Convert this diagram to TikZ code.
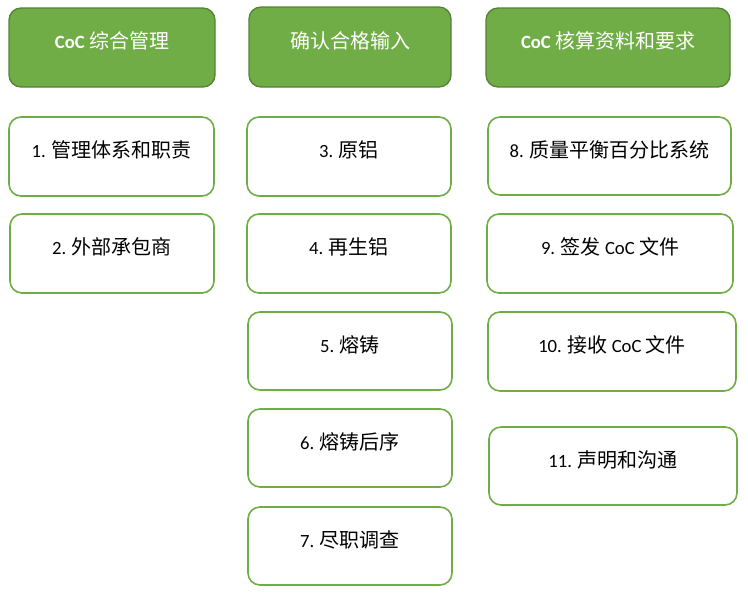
\documentclass[tikz,border=0pt]{standalone}
\usepackage{fontspec}
\setmainfont{Carlito}
\newfontfamily\cjk{Noto Sans CJK SC}
\newcommand\zh[1]{{\cjk\fontsize{15pt}{18pt}\selectfont #1}}
\definecolor{hdrfill}{HTML}{70AD47}
\definecolor{hdrline}{HTML}{548235}
\definecolor{boxline}{HTML}{70AD47}
\begin{document}
\begin{tikzpicture}[x=0.75pt,y=-0.75pt,
  base/.style={rectangle,rounded corners=9pt,align=center,
    font=\fontsize{14pt}{17pt}\selectfont,text height=7pt,text depth=5pt,inner sep=0pt},
  hdr/.style={base,fill=hdrfill,draw=hdrline,line width=1pt,text=white},
  item/.style={base,fill=white,draw=boxline,line width=1.2pt,text=black}]
\useasboundingbox (0,0) rectangle (748,593);
% headers
\node[hdr,minimum width=206*0.75pt,minimum height=79*0.75pt] (h1) at (112,47.5) {\textbf{CoC} \zh{综合管理}};
\node[hdr,minimum width=202*0.75pt,minimum height=80*0.75pt] (h2) at (350,47) {\zh{确认合格输入}};
\node[hdr,minimum width=244*0.75pt,minimum height=79*0.75pt] (h3) at (608,47.5) {\textbf{CoC} \zh{核算资料和要求}};
% column 1
\node[item,minimum width=205*0.75pt,minimum height=79*0.75pt] (b1) at (111.5,156.5) {1. \zh{管理体系和职责}};
\node[item,minimum width=204*0.75pt,minimum height=79*0.75pt] (b2) at (112,253.5) {2. \zh{外部承包商}};
% column 2
\node[item,minimum width=204*0.75pt,minimum height=79*0.75pt] (b3) at (349,156.5) {3. \zh{原铝}};
\node[item,minimum width=204*0.75pt,minimum height=79*0.75pt] (b4) at (349,253.5) {4. \zh{再生铝}};
\node[item,minimum width=204*0.75pt,minimum height=78*0.75pt] (b5) at (350,351) {5. \zh{熔铸}};
\node[item,minimum width=204*0.75pt,minimum height=78*0.75pt] (b6) at (350,448) {6. \zh{熔铸后序}};
\node[item,minimum width=204*0.75pt,minimum height=78*0.75pt] (b7) at (350,546) {7. \zh{尽职调查}};
% column 3
\node[item,minimum width=243*0.75pt,minimum height=78*0.75pt] (b8) at (609.5,156) {8. \zh{质量平衡百分比系统}};
\node[item,minimum width=246*0.75pt,minimum height=79*0.75pt] (b9) at (610,253.5) {9. \zh{签发} CoC \zh{文件}};
\node[item,minimum width=248*0.75pt,minimum height=79*0.75pt] (b10) at (612,351.5) {10. \zh{接收} CoC \zh{文件}};
\node[item,minimum width=248*0.75pt,minimum height=78*0.75pt] (b11) at (613,466) {11. \zh{声明和沟通}};
\end{tikzpicture}
\end{document}
